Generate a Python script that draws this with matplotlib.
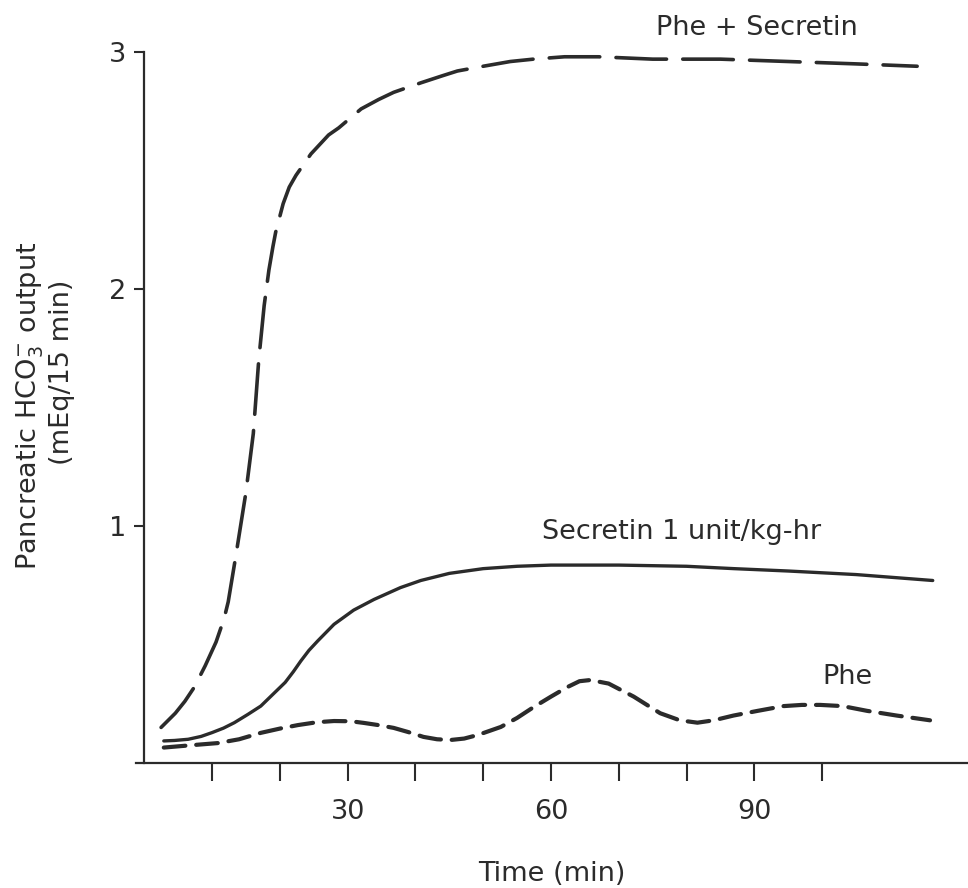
import matplotlib
matplotlib.use("Agg")
import matplotlib.pyplot as plt

# values (time in min, HCO3- output in mEq/15 min)
phe_sec_t = [2.5, 4.6, 6.0, 7.4, 9.0, 10.6, 11.8, 12.4, 13.5, 15, 16.1, 16.9,
             17.7, 18.4, 19.0, 19.4, 20.5, 21.4, 22.4, 24.6, 27.2, 28.7, 32,
             34.6, 36.8, 40.8, 44, 46.2, 50, 54, 57.4, 62, 67, 75, 85, 95, 105,
             114]
phe_sec_v = [0.15, 0.21, 0.26, 0.32, 0.41, 0.51, 0.61, 0.68, 0.87, 1.14, 1.39,
             1.70, 1.93, 2.08, 2.18, 2.24, 2.36, 2.43, 2.48, 2.57, 2.65, 2.68,
             2.76, 2.80, 2.83, 2.87, 2.90, 2.92, 2.94, 2.96, 2.97, 2.98, 2.98,
             2.97, 2.97, 2.96, 2.95, 2.94]

sec_t = [2.9, 4.5, 6.5, 8.4, 10, 11.7, 13.3, 15.3, 17.2, 19, 20.8, 22, 23.1,
         24.3, 25.6, 28.0, 30.9, 33.9, 37.8, 40.8, 45, 50, 55, 60, 70, 80, 87,
         95, 105, 116.3]
sec_v = [0.093, 0.095, 0.10, 0.112, 0.128, 0.147, 0.17, 0.205, 0.24, 0.29,
         0.34, 0.385, 0.43, 0.475, 0.515, 0.585, 0.645, 0.69, 0.74, 0.77, 0.80,
         0.82, 0.83, 0.835, 0.835, 0.83, 0.82, 0.81, 0.795, 0.77]

phe_t = [2.9, 7, 10.9, 14, 17.2, 20, 22.7, 25.5, 28, 30.5, 32.4, 34.5, 36.8,
         39, 41.2, 43.2, 45.2, 47.2, 49.2, 52.6, 55, 57.4, 60, 62.4, 64.2, 65.8,
         68.5, 72.2, 76.1, 79, 81.6, 84, 86.9, 90.5, 94.3, 97, 99.7, 103,
         106.6, 111, 115.9]
phe_v = [0.065, 0.075, 0.084, 0.10, 0.127, 0.145, 0.16, 0.172, 0.177, 0.176,
         0.169, 0.16, 0.148, 0.13, 0.11, 0.10, 0.097, 0.103, 0.118, 0.152, 0.19,
         0.235, 0.28, 0.32, 0.345, 0.35, 0.335, 0.28, 0.21, 0.18, 0.17, 0.18,
         0.20, 0.22, 0.24, 0.245, 0.245, 0.24, 0.22, 0.20, 0.18]

x_ticks = [10, 20, 30, 40, 50, 60, 70, 80, 90, 100]
x_ticklabels = ['', '', '30', '', '', '60', '', '', '90', '']
y_ticks = [1, 2, 3]

ink = '#2b2b2b'
fs = 19.5
plt.rcParams['font.family'] = ['DejaVu Sans']
plt.rcParams['mathtext.fontset'] = 'dejavusans'

fig = plt.figure(figsize=(9.68, 8.88), dpi=100)
ax = fig.add_axes([0.1405, 0.1408, 0.8595, 0.8006])

ax.plot(phe_sec_t, phe_sec_v, color=ink, lw=2.6, dashes=(14, 4.5),
        solid_capstyle='round', dash_capstyle='round')
ax.plot(sec_t, sec_v, color=ink, lw=2.4, solid_capstyle='round')
ax.plot(phe_t, phe_v, color=ink, lw=3.0, dashes=(5.2, 2.6),
        dash_capstyle='round')

ax.set_xlim(-1.2, 121.5)
ax.set_ylim(0, 3)

ax.spines['top'].set_visible(False)
ax.spines['right'].set_visible(False)
ax.spines['left'].set_position(('data', 0))
for s in ['left', 'bottom']:
    ax.spines[s].set_linewidth(1.6)
    ax.spines[s].set_color(ink)

ax.set_xticks(x_ticks)
ax.set_xticklabels(x_ticklabels)
ax.set_yticks(y_ticks)
ax.set_yticklabels([str(v) for v in y_ticks])
ax.tick_params(axis='x', direction='out', length=13, width=1.5, pad=13,
               labelsize=fs, colors=ink)
ax.tick_params(axis='y', direction='out', length=7, width=1.5, pad=6,
               labelsize=fs, colors=ink)

ax.set_xlabel('Time (min)', fontsize=fs, color=ink, labelpad=26)

fig.text(0.031, 0.543, r'Pancreatic HCO$_3^{-}$ output', rotation=90,
         ha='center', va='center', fontsize=fs, color=ink)
fig.text(0.064, 0.581, '(mEq/15 min)', rotation=90,
         ha='center', va='center', fontsize=fs, color=ink)

ax.text(90.4, 3.10, 'Phe + Secretin', ha='center', va='center',
        fontsize=fs, color=ink, clip_on=False)
ax.text(79.2, 0.975, 'Secretin 1 unit/kg-hr', ha='center', va='center',
        fontsize=fs, color=ink)
ax.text(103.7, 0.363, 'Phe', ha='center', va='center', fontsize=fs, color=ink)

fig.savefig('out.png', dpi=100)
